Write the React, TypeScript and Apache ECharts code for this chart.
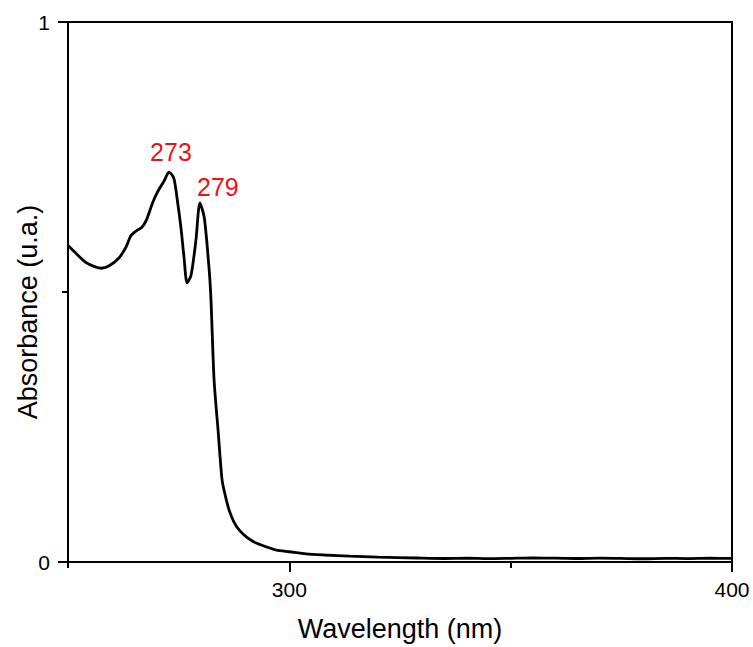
import React, { useEffect, useRef } from "react";
import * as echarts from "echarts";

// Wavelength (nm) and absorbance (u.a.)
const wavelengths = [
  250.0, 252.0, 254.0, 256.0, 257.5, 259.2, 261.5, 263.1, 264.2, 265.4, 266.7,
  267.7, 269.1, 270.2, 271.8, 272.8, 273.9, 274.6, 275.5, 276.2, 276.9, 277.8,
  278.9, 279.8, 280.8, 281.9, 282.3, 283.0, 283.9, 284.8, 285.5, 286.4, 287.5,
  288.7, 290.5, 292.5, 294.8, 297.1, 300.0, 303.8, 308.0, 313.6, 320.0, 328.8,
  335, 340, 345, 350, 355, 360, 365, 370, 375, 380, 385, 390, 395, 400,
];
const absorbance = [
  0.586, 0.57, 0.555, 0.547, 0.544, 0.548, 0.563, 0.583, 0.604, 0.613, 0.62,
  0.633, 0.665, 0.685, 0.707, 0.722, 0.711, 0.676, 0.62, 0.565, 0.517, 0.531,
  0.596, 0.665, 0.637, 0.54, 0.485, 0.337, 0.244, 0.152, 0.124, 0.096, 0.074,
  0.059, 0.045, 0.035, 0.028, 0.022, 0.019, 0.015, 0.013, 0.011, 0.009, 0.0074,
  0.0065, 0.007, 0.0062, 0.0068, 0.0075, 0.007, 0.0065, 0.0072, 0.0066, 0.006,
  0.0068, 0.0064, 0.007, 0.0066,
];

// Peak annotations
const peakLabels = ["273", "279"];
const peakWavelengths = [272.8, 279.8];
const peakAbsorbance = [0.722, 0.665];

// Tick values
const xMajorTicks = [300, 400];
const xMinorTicks = [250, 350];
const yMajorTicks = [0, 1];
const yMinorTicks = [0.5];

const FONT = "'Liberation Sans', Arial, Helvetica, sans-serif";

export default function App() {
  const ref = useRef<HTMLDivElement>(null);

  useEffect(() => {
    document.body.style.margin = "0";
    if (!ref.current) return;
    const chart = echarts.init(ref.current, null, { renderer: "svg" });

    const black = "#000";
    const labelOffsets = [
      [2, -20],
      [18, -16],
    ];

    chart.setOption({
      animation: false,
      backgroundColor: "#fff",
      textStyle: { fontFamily: FONT },
      grid: {
        left: 68,
        right: 21,
        top: 22,
        bottom: 85,
        show: true,
        borderColor: black,
        borderWidth: 2,
        backgroundColor: "transparent",
      },
      xAxis: [
        {
          type: "value",
          min: 250,
          max: 400,
          position: "bottom",
          axisLine: { show: true, lineStyle: { color: black, width: 2 } },
          axisTick: {
            show: true,
            customValues: xMajorTicks,
            length: 10,
            lineStyle: { color: black, width: 2 },
          },
          axisLabel: {
            customValues: xMajorTicks,
            fontSize: 21,
            color: black,
            margin: 17,
            fontFamily: FONT,
          },
          splitLine: { show: false },
          name: "Wavelength (nm)",
          nameLocation: "middle",
          nameGap: 53,
          nameTextStyle: { fontSize: 27, color: black, fontFamily: FONT },
        },
        {
          type: "value",
          min: 250,
          max: 400,
          position: "bottom",
          offset: 0,
          axisLine: { show: false },
          axisTick: {
            show: true,
            customValues: xMinorTicks,
            length: 6,
            lineStyle: { color: black, width: 2 },
          },
          axisLabel: { show: false },
          splitLine: { show: false },
        },
      ],
      yAxis: [
        {
          type: "value",
          min: 0,
          max: 1,
          position: "left",
          axisLine: { show: true, lineStyle: { color: black, width: 2 } },
          axisTick: {
            show: true,
            customValues: yMajorTicks,
            length: 10,
            lineStyle: { color: black, width: 2 },
          },
          axisLabel: {
            customValues: yMajorTicks,
            fontSize: 21,
            color: black,
            margin: 18,
            fontFamily: FONT,
          },
          splitLine: { show: false },
        },
        {
          type: "value",
          min: 0,
          max: 1,
          position: "left",
          offset: 0,
          axisLine: { show: false },
          axisTick: {
            show: true,
            customValues: yMinorTicks,
            length: 6,
            lineStyle: { color: black, width: 2 },
          },
          axisLabel: { show: false },
          splitLine: { show: false },
        },
      ],
      graphic: [
        {
          type: "text",
          x: 28,
          y: 312,
          rotation: Math.PI / 2,
          style: {
            text: "Absorbance (u.a.)",
            fontSize: 27,
            fontFamily: FONT,
            fill: black,
            align: "center",
            verticalAlign: "middle",
          },
        },
      ],
      series: [
        {
          type: "line",
          xAxisIndex: 0,
          yAxisIndex: 0,
          data: wavelengths.map((w, i) => [w, absorbance[i]]),
          showSymbol: false,
          smooth: 0.25,
          lineStyle: { color: black, width: 2.8 },
          markPoint: {
            symbol: "circle",
            symbolSize: 0,
            data: peakLabels.map((lab, i) => ({
              name: lab,
              coord: [peakWavelengths[i], peakAbsorbance[i]],
              label: {
                show: true,
                position: "inside",
                offset: labelOffsets[i],
                formatter: lab,
                color: "#e8141b",
                fontSize: 25,
                fontFamily: FONT,
              },
            })),
          },
        },
      ],
    });

    return () => chart.dispose();
  }, []);

  return <div ref={ref} style={{ width: 753, height: 647 }} />;
}
